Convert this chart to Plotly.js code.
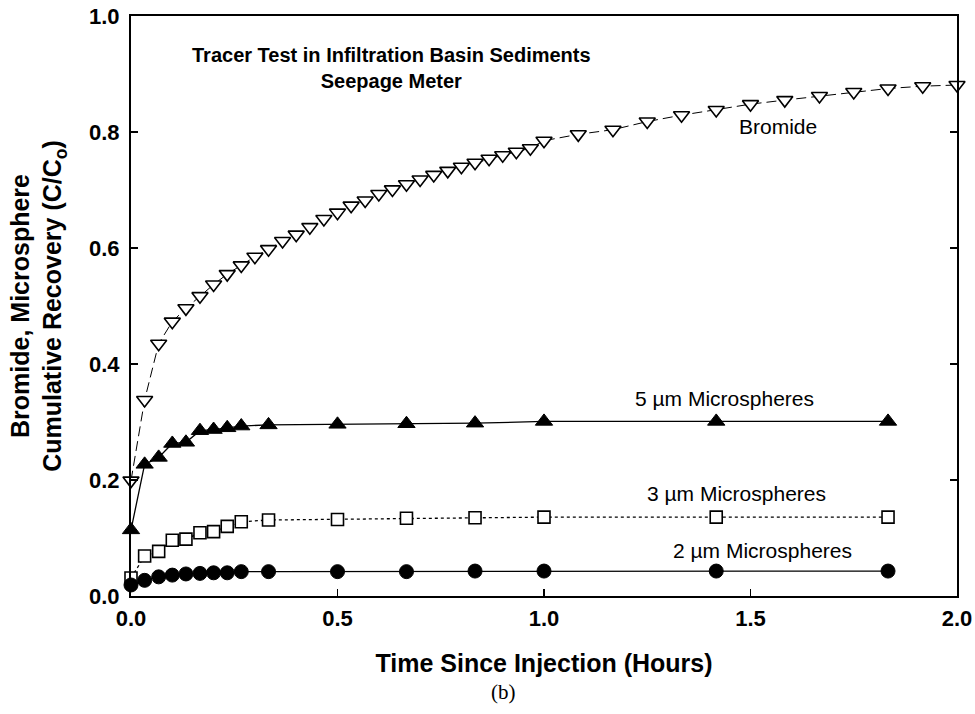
<!DOCTYPE html>
<html>
<head>
<meta charset="utf-8">
<script src="https://cdn.plot.ly/plotly-3.0.1.min.js"></script>
<style>
html,body{margin:0;padding:0;background:#fff;}
#chart{width:975px;height:714px;}
</style>
</head>
<body>
<div id="chart"></div>
<script>
// Time since injection (hours)
const bromideTime = [0, 0.033, 0.067, 0.1, 0.133, 0.167, 0.2, 0.233, 0.267, 0.3, 0.333, 0.367, 0.4, 0.433, 0.467, 0.5, 0.533, 0.567, 0.6, 0.633, 0.667, 0.7, 0.733, 0.767, 0.8, 0.833, 0.867, 0.9, 0.933, 0.967, 1.0, 1.083, 1.167, 1.25, 1.333, 1.417, 1.5, 1.583, 1.667, 1.75, 1.833, 1.917, 2.0];
const bromideRecovery = [0.199, 0.338, 0.435, 0.473, 0.496, 0.517, 0.537, 0.555, 0.570, 0.585, 0.598, 0.612, 0.623, 0.636, 0.650, 0.661, 0.673, 0.682, 0.693, 0.701, 0.710, 0.718, 0.726, 0.733, 0.740, 0.747, 0.754, 0.760, 0.766, 0.772, 0.785, 0.796, 0.804, 0.818, 0.829, 0.838, 0.848, 0.855, 0.862, 0.869, 0.875, 0.879, 0.881];

const microTime = [0, 0.033, 0.067, 0.1, 0.133, 0.167, 0.2, 0.233, 0.267, 0.333, 0.5, 0.667, 0.833, 1.0, 1.417, 1.833];
const micro5Recovery = [0.114, 0.227, 0.239, 0.263, 0.265, 0.285, 0.287, 0.290, 0.293, 0.295, 0.296, 0.297, 0.298, 0.301, 0.301, 0.301];
const micro3Recovery = [0.031, 0.069, 0.077, 0.096, 0.098, 0.109, 0.111, 0.120, 0.128, 0.131, 0.132, 0.134, 0.135, 0.136, 0.136, 0.136];
const micro2Recovery = [0.019, 0.027, 0.033, 0.036, 0.038, 0.039, 0.040, 0.040, 0.042, 0.042, 0.042, 0.042, 0.043, 0.043, 0.043, 0.043];

const xTickVals = [0, 0.5, 1.0, 1.5, 2.0];
const xTickText = ['0.0', '0.5', '1.0', '1.5', '2.0'];
const yTickVals = [0, 0.2, 0.4, 0.6, 0.8, 1.0];
const yTickText = ['0.0', '0.2', '0.4', '0.6', '0.8', '1.0'];

const FONT = 'Liberation Sans, Arial, Helvetica, sans-serif';

const traces = [
  {
    x: bromideTime, y: bromideRecovery, type: 'scatter', mode: 'lines+markers', name: 'Bromide',
    line: {color: '#000', width: 1, dash: '10px,5px'},
    marker: {symbol: 'triangle-down', size: 14, color: '#fff', line: {color: '#000', width: 1.6}},
    cliponaxis: false
  },
  {
    x: microTime, y: micro5Recovery, type: 'scatter', mode: 'lines+markers', name: '5 µm Microspheres',
    line: {color: '#000', width: 1.3},
    marker: {symbol: 'triangle-up', size: 15, color: '#000', line: {color: '#000', width: 1}},
    cliponaxis: false
  },
  {
    x: microTime, y: micro3Recovery, type: 'scatter', mode: 'lines+markers', name: '3 µm Microspheres',
    line: {color: '#000', width: 1.3, dash: 'dot'},
    marker: {symbol: 'square', size: 12, color: '#fff', line: {color: '#000', width: 1.6}},
    cliponaxis: false
  },
  {
    x: microTime, y: micro2Recovery, type: 'scatter', mode: 'lines+markers', name: '2 µm Microspheres',
    line: {color: '#000', width: 1.3},
    marker: {symbol: 'circle', size: 14, color: '#000', line: {color: '#000', width: 1}},
    cliponaxis: false
  }
];

const layout = {
  width: 975, height: 714,
  margin: {l: 131, r: 18, t: 16, b: 118},
  paper_bgcolor: '#fff', plot_bgcolor: '#fff',
  showlegend: false,
  font: {family: FONT, color: '#000'},
  xaxis: {
    range: [0, 2], tickvals: xTickVals, ticktext: xTickText,
    ticks: 'inside', ticklen: 7, tickwidth: 1.5, tickcolor: '#000',
    showline: true, linecolor: '#000', linewidth: 2, mirror: true,
    showgrid: false, zeroline: false, ticklabelstandoff: 2,
    tickfont: {family: FONT, size: 22, weight: 'bold'},
    title: {text: 'Time Since Injection (Hours)', font: {family: FONT, size: 25, weight: 'bold'}, standoff: 24}
  },
  yaxis: {
    range: [0, 1], tickvals: yTickVals, ticktext: yTickText,
    ticks: 'inside', ticklen: 7, tickwidth: 1.5, tickcolor: '#000',
    showline: true, linecolor: '#000', linewidth: 2, mirror: 'ticks',
    showgrid: false, zeroline: false, ticklabelstandoff: 5,
    tickfont: {family: FONT, size: 22, weight: 'bold'},
    title: {text: 'Bromide, Microsphere<br>Cumulative Recovery (C/C<sub>o</sub>)', font: {family: FONT, size: 25, weight: 'bold'}, standoff: 20}
  },
  annotations: [
    {x: 0.63, y: 0.911, xref: 'x', yref: 'y', text: 'Tracer Test in Infiltration Basin Sediments<br>Seepage Meter', showarrow: false,
     font: {family: FONT, size: 20, weight: 'bold'}, xanchor: 'center', yanchor: 'middle', align: 'center'},
    {x: 1.567, y: 0.809, xref: 'x', yref: 'y', text: 'Bromide', showarrow: false, font: {family: FONT, size: 21}, xanchor: 'center', yanchor: 'middle'},
    {x: 1.436, y: 0.341, xref: 'x', yref: 'y', text: '5 µm Microspheres', showarrow: false, font: {family: FONT, size: 21}, xanchor: 'center', yanchor: 'middle'},
    {x: 1.465, y: 0.176, xref: 'x', yref: 'y', text: '3 µm Microspheres', showarrow: false, font: {family: FONT, size: 21}, xanchor: 'center', yanchor: 'middle'},
    {x: 1.530, y: 0.079, xref: 'x', yref: 'y', text: '2 µm Microspheres', showarrow: false, font: {family: FONT, size: 21}, xanchor: 'center', yanchor: 'middle'},
    {x: 0.451, y: -0.165, xref: 'paper', yref: 'paper', text: '(b)', showarrow: false,
     font: {family: 'Liberation Serif, Times New Roman, serif', size: 21}, xanchor: 'center', yanchor: 'middle'}
  ]
};

Plotly.newPlot('chart', traces, layout, {displayModeBar: false, staticPlot: true});
</script>
</body>
</html>
